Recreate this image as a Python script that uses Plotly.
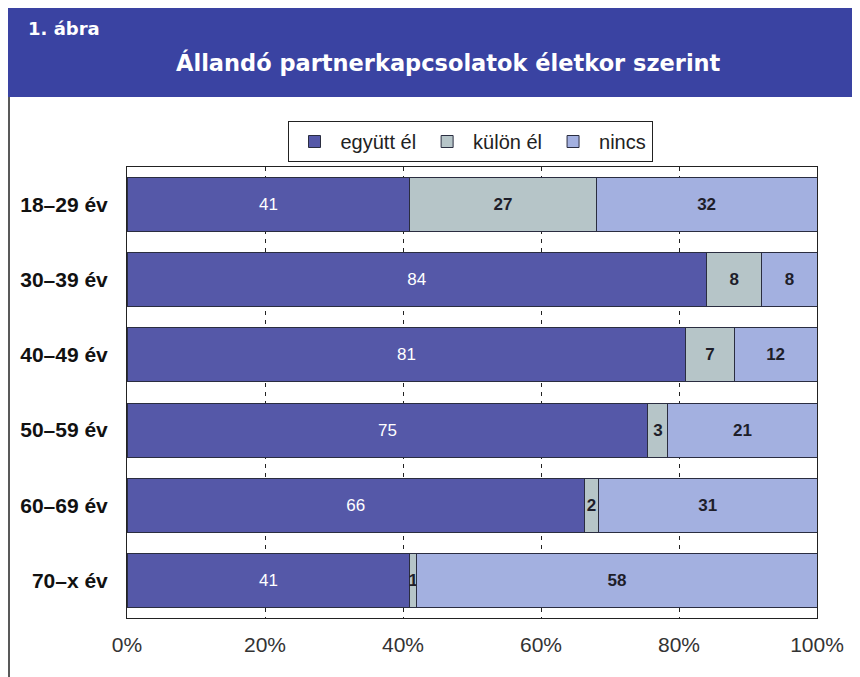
import plotly.graph_objects as go

categories = ["18–29 év", "30–39 év", "40–49 év", "50–59 év", "60–69 év", "70–x év"]
# segment lengths (percent)
egyutt = [41, 84, 81, 75.5, 66.3, 41]
kulon = [27, 8, 7, 2.9, 2.0, 1]
nincs = [32, 8, 12, 21.6, 31.7, 58]
# printed labels on the bars
egyutt_labels = ["41", "84", "81", "75", "66", "41"]
kulon_labels = ["27", "8", "7", "3", "2", "1"]
nincs_labels = ["32", "8", "12", "21", "31", "58"]
series_names = ["együtt él", "külön él", "nincs"]
x_ticks = [0, 20, 40, 60, 80, 100]
x_ticklabels = ["0%", "20%", "40%", "60%", "80%", "100%"]

colors = ["#5558a8", "#b6c5c8", "#a3b0e0"]
text_colors = ["white", "#1e1e2a", "#1e1e2a"]
FONT = "Liberation Sans, Arial, sans-serif"
WIDE = "DejaVu Sans, Liberation Sans, sans-serif"

fig = go.Figure()
for name, vals, labels, col, tcol in zip(series_names, [egyutt, kulon, nincs],
                                         [egyutt_labels, kulon_labels, nincs_labels],
                                         colors, text_colors):
    fig.add_trace(go.Bar(
        y=categories, x=vals, name=name, orientation="h",
        marker=dict(color=col, line=dict(color="#2a2d40", width=1)),
        text=labels, textposition="inside",
        insidetextanchor="middle", constraintext="none",
        textfont=dict(color=tcol, size=17, family=FONT,
                      weight="normal" if tcol == "white" else "bold"),
        hoverinfo="skip",
    ))

# browser body margin offsets the figure by 8px; figure is sized to fit the window
OFF = 8
W, H = 860 - OFF, 677 - OFF
L, T, R, B = 127, 167, 817, 618  # plot area in window pixels


def px(x):
    return (x - L) / float(R - L)


def py(y):
    return (B - y) / float(B - T)


shapes = [
    dict(type="rect", xref="paper", yref="paper", x0=px(5), x1=px(870), y0=py(97), y1=py(8),
         fillcolor="#3a43a2", line=dict(width=0), layer="below"),
    dict(type="line", xref="paper", yref="paper", x0=px(9), x1=px(9), y0=py(97), y1=py(690),
         line=dict(color="#222", width=1.5)),
    dict(type="line", xref="paper", yref="paper", x0=px(856), x1=px(856), y0=py(97), y1=py(690),
         line=dict(color="#222", width=1.5)),
]

annotations = [
    dict(text="<b>1. ábra</b>", xref="paper", yref="paper", x=px(26), y=py(28),
         xanchor="left", yanchor="middle", showarrow=False,
         font=dict(color="white", size=18, family=WIDE)),
    dict(text="<b>Állandó partnerkapcsolatok életkor szerint</b>", xref="paper", yref="paper",
         x=px(448), y=py(63), xanchor="center", yanchor="middle", showarrow=False,
         font=dict(color="white", size=22.5, family=WIDE)),
]

fig.update_layout(
    width=W, height=H,
    margin=dict(l=L - OFF, r=W - (R - OFF), t=T - OFF, b=H - (B - OFF)),
    barmode="stack", bargap=0.28,
    paper_bgcolor="white", plot_bgcolor="white",
    font=dict(family=FONT, color="#222"),
    shapes=shapes, annotations=annotations,
    showlegend=True,
    legend=dict(orientation="h", x=px(470), xanchor="center", y=py(121), yanchor="top",
                bordercolor="#222", borderwidth=1, bgcolor="white",
                font=dict(size=20, family=FONT, color="#222"),
                traceorder="normal", tracegroupgap=0, itemwidth=42),
)
fig.update_xaxes(
    range=[0, 100], tickvals=x_ticks, ticktext=x_ticklabels,
    showgrid=True, gridcolor="#222", griddash="4px,5px", gridwidth=1,
    showline=True, linecolor="#222", linewidth=1, mirror=True,
    ticks="", tickfont=dict(size=21, family=FONT, color="#333"),
    ticklabelstandoff=8, zeroline=False, fixedrange=True,
)
fig.update_yaxes(
    categoryorder="array", categoryarray=categories,
    range=[5.5, -0.5], autorange=False,
    showgrid=False, showline=True, linecolor="#222", linewidth=1, mirror=True,
    ticks="", tickfont=dict(size=21, family=FONT, color="#111", weight="bold"),
    ticklabelstandoff=14, fixedrange=True,
)

fig.write_html("out.html")
